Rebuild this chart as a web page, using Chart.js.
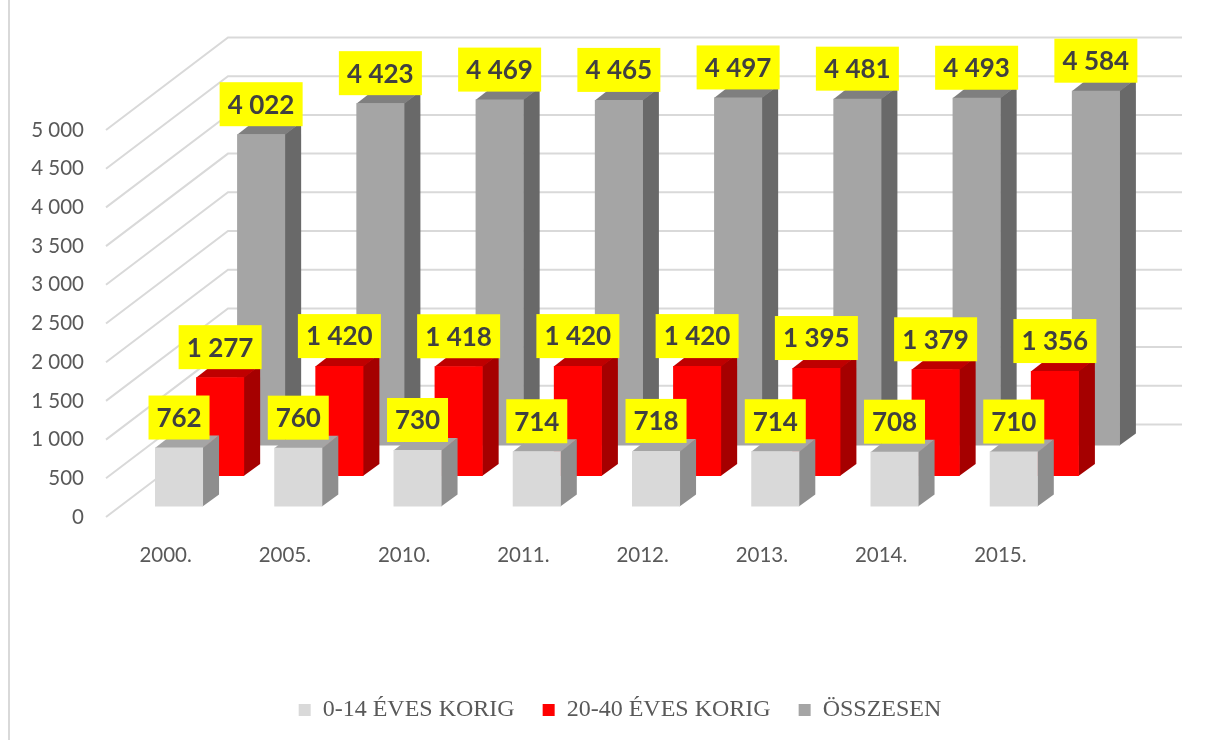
<!DOCTYPE html>
<html>
<head>
<meta charset="utf-8">
<title>Korcsoportok</title>
<script src="https://cdn.jsdelivr.net/npm/chart.js@4"></script>
<style>
  html, body { margin: 0; padding: 0; background: #fff; }
  canvas { display: block; }
</style>
</head>
<body>
<canvas id="mycanvas" width="1208" height="740"></canvas>
<script>
var years = ["2000.", "2005.", "2010.", "2011.", "2012.", "2013.", "2014.", "2015."];
var kids = [762, 760, 730, 714, 718, 714, 708, 710];
var adults = [1277, 1420, 1418, 1420, 1420, 1395, 1379, 1356];
var total = [4022, 4423, 4469, 4465, 4497, 4481, 4493, 4584];
var seriesNames = ["0-14 ÉVES KORIG", "20-40 ÉVES KORIG", "ÖSSZESEN"];

// hungarian thousands: 4022 -> 4 022
function fmt(v) {
  return String(v).replace(/\B(?=(\d{3})+$)/g, " ");
}

// fake 3d: every series sits further back on the floor
var wallX = 122, wallY = -92.5;
var sideX = 16, sideY = -12;
var shift = [[13.4, -10.5], [54.5, -41], [95.5, -71.5]];
var sideColors = ["#8e8e8e", "#a50000", "#696969"];
var topColors = ["#a5a5a5", "#bf0000", "#7f7f7f"];

function poly(ctx, pts, color) {
  ctx.fillStyle = color;
  ctx.beginPath();
  ctx.moveTo(pts[0][0], pts[0][1]);
  for (var i = 1; i < pts.length; i++) ctx.lineTo(pts[i][0], pts[i][1]);
  ctx.closePath();
  ctx.fill();
}

var fake3d = {
  id: "fake3d",
  afterLayout: function(chart) {
    // legend sits right of the plot centre in the original
    chart.legend.left = 180;
    chart.legend.top -= 8;
  },
  beforeDatasetsDraw: function(chart) {
    var ctx = chart.ctx, area = chart.chartArea, y = chart.scales.y;
    ctx.save();
    // frame line on the left
    ctx.strokeStyle = "#d9d9d9";
    ctx.lineWidth = 2;
    ctx.beginPath();
    ctx.moveTo(9, 0);
    ctx.lineTo(9, 740);
    ctx.stroke();
    // side wall + back wall gridlines
    y.ticks.forEach(function(t) {
      var py = y.getPixelForValue(t.value);
      ctx.beginPath();
      ctx.moveTo(area.left, py);
      ctx.lineTo(area.left + wallX, py + wallY);
      ctx.lineTo(area.right + wallX, py + wallY);
      ctx.stroke();
    });
    ctx.restore();
  },
  beforeDatasetDraw: function(chart, args) {
    var ctx = chart.ctx, i = args.index;
    ctx.save();
    ctx.translate(shift[i][0], shift[i][1]);
    args.meta.data.forEach(function(bar) {
      var l = bar.x - bar.width / 2, r = bar.x + bar.width / 2;
      // half a pixel under the front face so no seam shows through
      poly(ctx, [[r - 0.5, bar.y], [r + sideX, bar.y + sideY], [r + sideX, bar.base + sideY], [r - 0.5, bar.base]], sideColors[i]);
      poly(ctx, [[l, bar.y + 0.5], [l + sideX, bar.y + sideY], [r + sideX, bar.y + sideY], [r, bar.y + 0.5]], topColors[i]);
    });
  },
  afterDatasetDraw: function(chart) {
    chart.ctx.restore();
  },
  afterDatasetsDraw: function(chart) {
    var ctx = chart.ctx;
    ctx.save();
    ctx.font = "bold 26px Lato";
    ctx.textAlign = "center";
    ctx.textBaseline = "middle";
    for (var i = 2; i >= 0; i--) {
      chart.getDatasetMeta(i).data.forEach(function(bar, n) {
        var txt = fmt(chart.data.datasets[i].data[n]);
        var w = txt.length > 3 ? 83 : 61, h = 44;
        var cx = bar.x + shift[i][0], bottom = bar.y + shift[i][1] - 8;
        ctx.fillStyle = "#ffff00";
        ctx.fillRect(cx - w / 2, bottom - h, w, h);
        ctx.fillStyle = "#404040";
        ctx.fillText(txt, cx, bottom - h / 2 + 1);
      });
    }
    ctx.restore();
  }
};

var ctx = document.getElementById("mycanvas");
var barGraph = new Chart(ctx, {
  type: "bar",
  data: {
    labels: years,
    datasets: [
      { label: seriesNames[0], data: kids, backgroundColor: "#d9d9d9", clip: false },
      { label: seriesNames[1], data: adults, backgroundColor: "#ff0000", clip: false },
      { label: seriesNames[2], data: total, backgroundColor: "#a5a5a5", clip: false }
    ]
  },
  plugins: [fake3d],
  options: {
    responsive: false,
    animation: false,
    layout: { padding: { top: 130, right: 148, left: 0, bottom: 0 } },
    datasets: { bar: { grouped: false, barPercentage: 0.403, categoryPercentage: 1 } },
    plugins: {
      tooltip: { enabled: false },
      legend: {
        position: "bottom",
        labels: {
          boxWidth: 12,
          boxHeight: 12,
          padding: 28,
          color: "#595959",
          font: { family: "Liberation Serif", size: 24 }
        }
      }
    },
    scales: {
      x: {
        grid: { display: false },
        border: { display: false },
        ticks: { color: "#595959", font: { family: "Lato", size: 20.5 }, padding: 18, maxRotation: 0 },
        afterFit: function(scale) { scale.height = 161; }
      },
      y: {
        min: 0,
        max: 5000,
        grid: { display: false },
        border: { display: false },
        ticks: { stepSize: 500, color: "#595959", font: { family: "Lato", size: 20.5 }, padding: 14, callback: function(v) { return fmt(v); } },
        afterFit: function(scale) { scale.width = 106; }
      }
    }
  }
});
</script>
</body>
</html>
